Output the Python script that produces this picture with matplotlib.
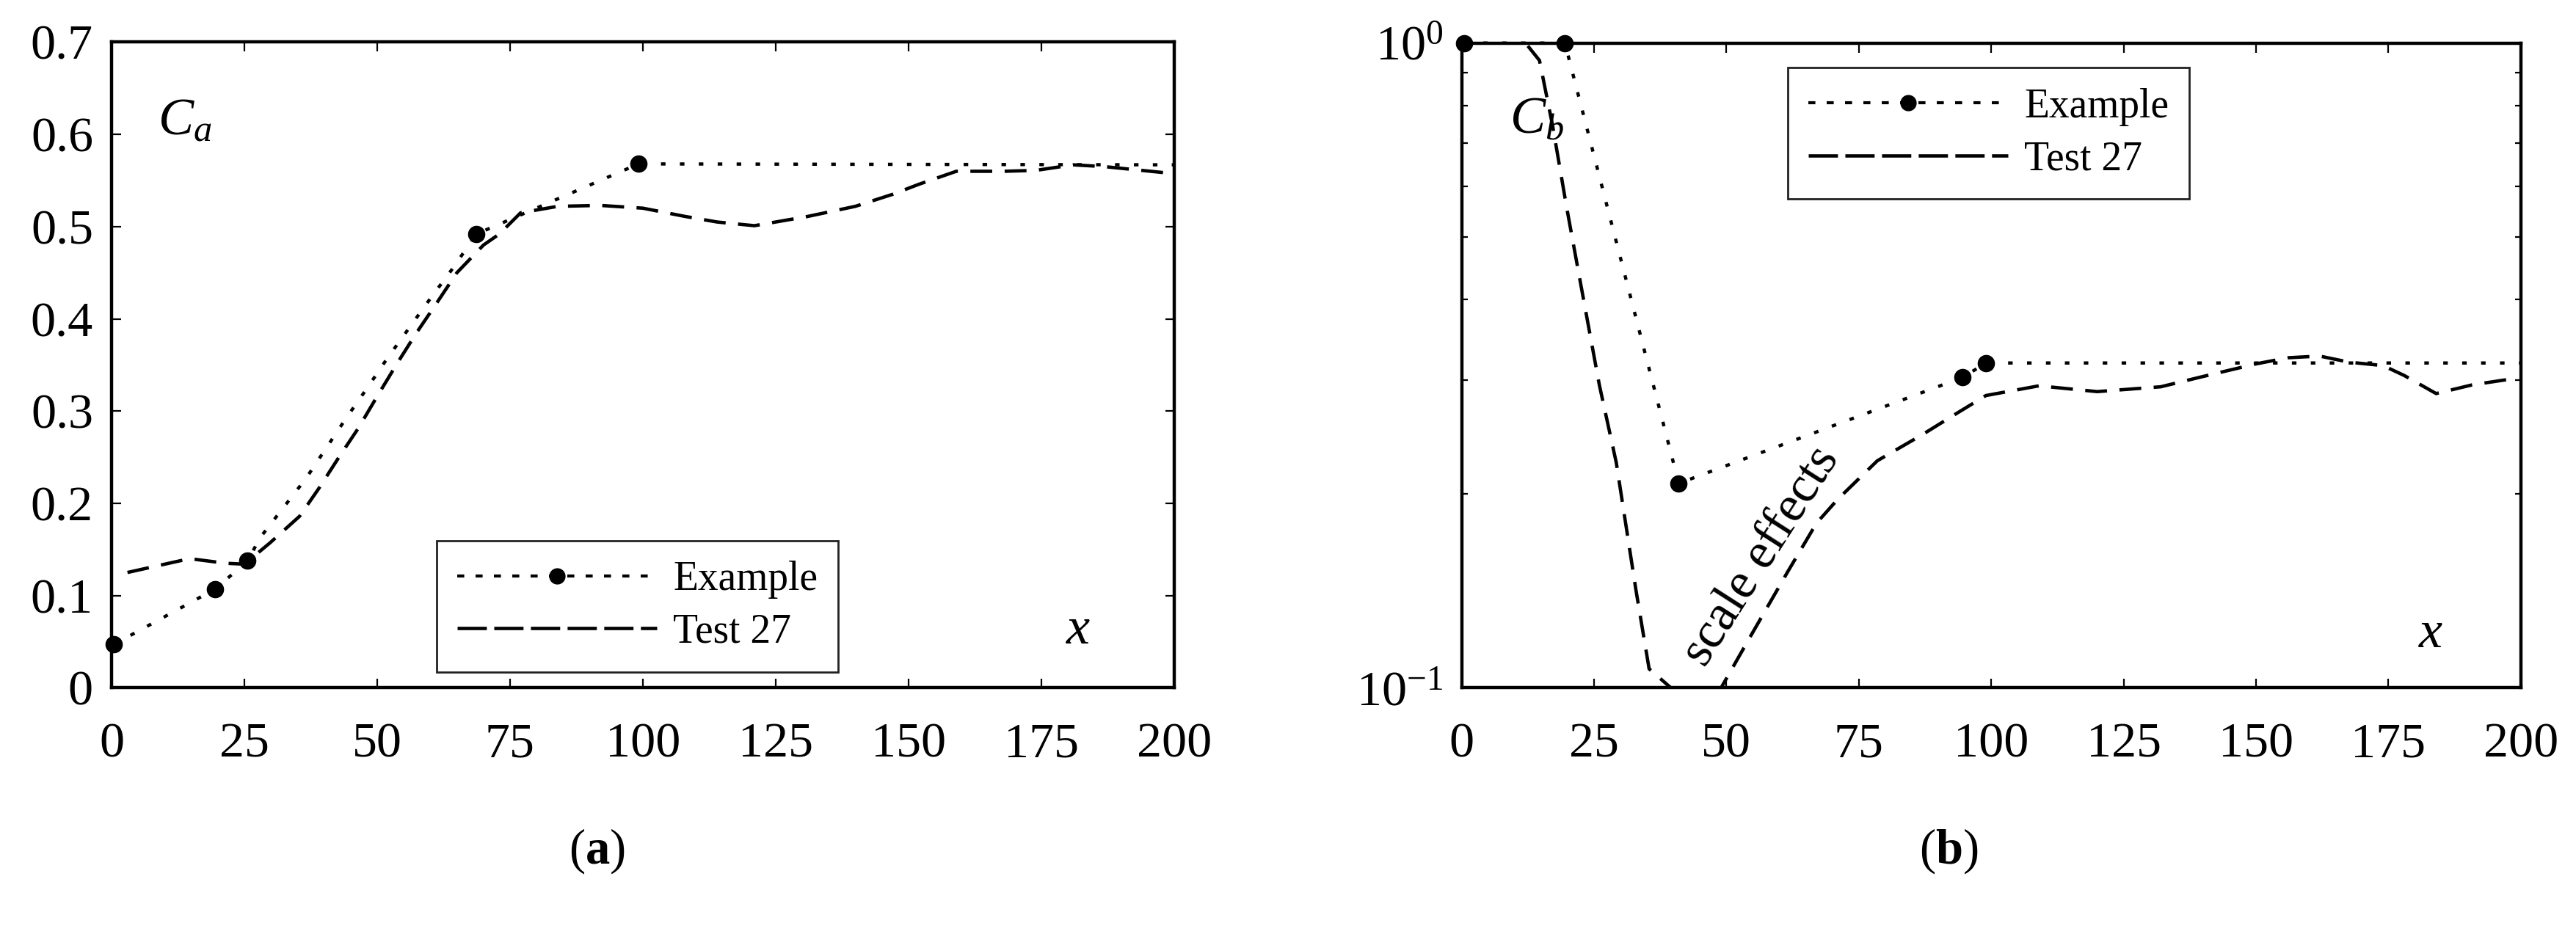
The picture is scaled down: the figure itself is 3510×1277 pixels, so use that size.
import matplotlib
matplotlib.use("Agg")
import matplotlib.pyplot as plt
from matplotlib.lines import Line2D
from matplotlib.ticker import FixedLocator, NullFormatter

plt.rcParams.update({
    'font.family': 'Liberation Serif',
    'mathtext.fontset': 'custom',
    'mathtext.rm': 'Liberation Serif',
    'mathtext.it': 'Liberation Serif:italic',
    'mathtext.bf': 'Liberation Serif:bold',
    'axes.linewidth': 3.2,
})

# --- data: panel (a) ---
a_ex_x = [0.45, 19.5, 25.6, 28, 32.3, 36.6, 40.3, 44, 48, 52, 56, 60, 64, 68.7, 99.2, 200]
a_ex_y = [0.047, 0.107, 0.1375, 0.163, 0.195, 0.227, 0.259, 0.291, 0.324, 0.358, 0.39,
          0.422, 0.453, 0.492, 0.568, 0.567]
a_ex_marks = [0, 1, 2, 13, 14]

a_t27_x = [3, 14.7, 21.5, 25, 29.8, 35.4, 39, 42.8, 46.4, 50.1, 53.9, 57.3, 61.3, 65, 70,
           73, 77, 84, 92, 100, 108, 114, 121, 131, 140, 147, 152, 159, 168, 174, 181, 187, 199]
a_t27_y = [0.125, 0.140, 0.135, 0.134, 0.157, 0.186, 0.216, 0.25, 0.281, 0.317, 0.353,
           0.384, 0.418, 0.45, 0.48, 0.492, 0.515, 0.522, 0.523, 0.520, 0.511, 0.505, 0.501,
           0.511, 0.522, 0.535, 0.546, 0.560, 0.560, 0.561, 0.567, 0.565, 0.558]

# --- data: panel (b) ---
b_ex_x = [0.5, 19.5, 41, 94.6, 99, 200]
b_ex_y = [1.0, 1.0, 0.2075, 0.303, 0.319, 0.319]
b_ex_marks = [0, 1, 2, 3, 4]

b_t27_x = [12.5, 14.7, 17.2, 19.8, 22.3, 26, 29.2, 32.9, 35.4, 39.5, 44, 49, 54.5, 61.5,
           67, 71, 78.5, 87, 93, 99, 109, 120, 132, 140, 150, 156, 162, 167.5, 174, 178,
           184, 190.8, 199]
b_t27_y = [0.99, 0.94, 0.743, 0.558, 0.431, 0.295, 0.2235, 0.142, 0.107, 0.1, 0.093, 0.1,
           0.12, 0.151, 0.18, 0.196, 0.225, 0.247, 0.265, 0.284, 0.294, 0.288, 0.293, 0.304,
           0.318, 0.325, 0.327, 0.32, 0.316, 0.305, 0.286, 0.295, 0.302]

x_ticks = [0, 25, 50, 75, 100, 125, 150, 175, 200]
a_y_ticks = [0, 0.1, 0.2, 0.3, 0.4, 0.5, 0.6, 0.7]
a_y_labels = ['0', '0.1', '0.2', '0.3', '0.4', '0.5', '0.6', '0.7']
b_minor = [0.2, 0.3, 0.4, 0.5, 0.6, 0.7, 0.8, 0.9]

dot_style = dict(color='black', linewidth=3.2, dashes=(1.4, 4.4), dash_capstyle='butt')
dash_style = dict(color='black', linewidth=3.3, dashes=(6.5, 3.7), dash_capstyle='butt')

fig = plt.figure(figsize=(35.1, 12.77), dpi=100)
ax1 = fig.add_axes([0.0433, 0.2660, 0.4125, 0.6890])
ax2 = fig.add_axes([0.5674, 0.2660, 0.4112, 0.6880])


def style_axes(ax):
    ax.tick_params(which='major', direction='in', length=9, width=1.6, labelsize=49,
                   top=True, right=True)
    ax.tick_params(which='minor', direction='in', length=6, width=1.6, top=False, right=True,
                   left=True)
    ax.tick_params(axis='x', pad=34)
    ax.tick_params(axis='y', pad=18)
    ax.set_xlim(0, 200)
    ax.set_xticks(x_ticks)
    ax.set_xticklabels([str(t) for t in x_ticks])


def legend_handles():
    h1 = Line2D([], [], color='black', linewidth=3.0, dashes=(2.3, 3.7), marker='o',
                markersize=15)
    h2 = Line2D([], [], color='black', linewidth=3.3, dashes=(8.7, 2.2))
    return [h1, h2]


def add_legend(ax, anchor):
    leg = ax.legend(legend_handles(), ['Example', 'Test 27'], loc='upper left',
                    bbox_to_anchor=anchor, borderaxespad=0, fontsize=40, frameon=True,
                    fancybox=False, framealpha=1, edgecolor='#222222', borderpad=0.5,
                    handlelength=4.9, handletextpad=0.4, labelspacing=0.35, numpoints=1)
    leg.get_frame().set_linewidth(2.0)


# ---- panel (a) ----
ax1.plot(a_t27_x, a_t27_y, **dash_style)
ax1.plot(a_ex_x, a_ex_y, marker='o', markersize=16, markevery=a_ex_marks, clip_on=False,
         zorder=3, **dot_style)
style_axes(ax1)
ax1.set_ylim(0, 0.7)
ax1.set_yticks(a_y_ticks)
ax1.set_yticklabels(a_y_labels)
ax1.text(8.7, 0.6, r'$C_a$', fontsize=52, ha='left', va='baseline')
ax1.text(182, 0.062, r'$x$', fontsize=52, ha='center', va='center')
add_legend(ax1, (0.306, 0.228))

# ---- panel (b) ----
ax2.plot(b_t27_x, b_t27_y, **dash_style)
ax2.plot(b_ex_x, b_ex_y, marker='o', markersize=16, markevery=b_ex_marks, clip_on=False,
         zorder=3, **dot_style)
ax2.set_yscale('log')
style_axes(ax2)
ax2.set_ylim(0.1, 1.0)
ax2.set_yticks([0.1, 1.0])
ax2.set_yticklabels([r'$10^{-1}$', r'$10^{0}$'])
ax2.yaxis.set_minor_locator(FixedLocator(b_minor))
ax2.yaxis.set_minor_formatter(NullFormatter())
ax2.text(9.0, 0.724, r'$C_b$', fontsize=52, ha='left', va='baseline')
ax2.text(183, 0.121, r'$x$', fontsize=52, ha='center', va='center')
ax2.text(56.6, 0.16, 'scale effects', fontsize=50, rotation=57.4, ha='center', va='center',
         rotation_mode='anchor')
add_legend(ax2, (0.308, 0.962))

fig.text(0.2316, 0.0916, r'$(\mathbf{a})$', fontsize=48, ha='center', va='center')
fig.text(0.7564, 0.0916, r'$(\mathbf{b})$', fontsize=48, ha='center', va='center')

fig.savefig('out.png', dpi=100)
